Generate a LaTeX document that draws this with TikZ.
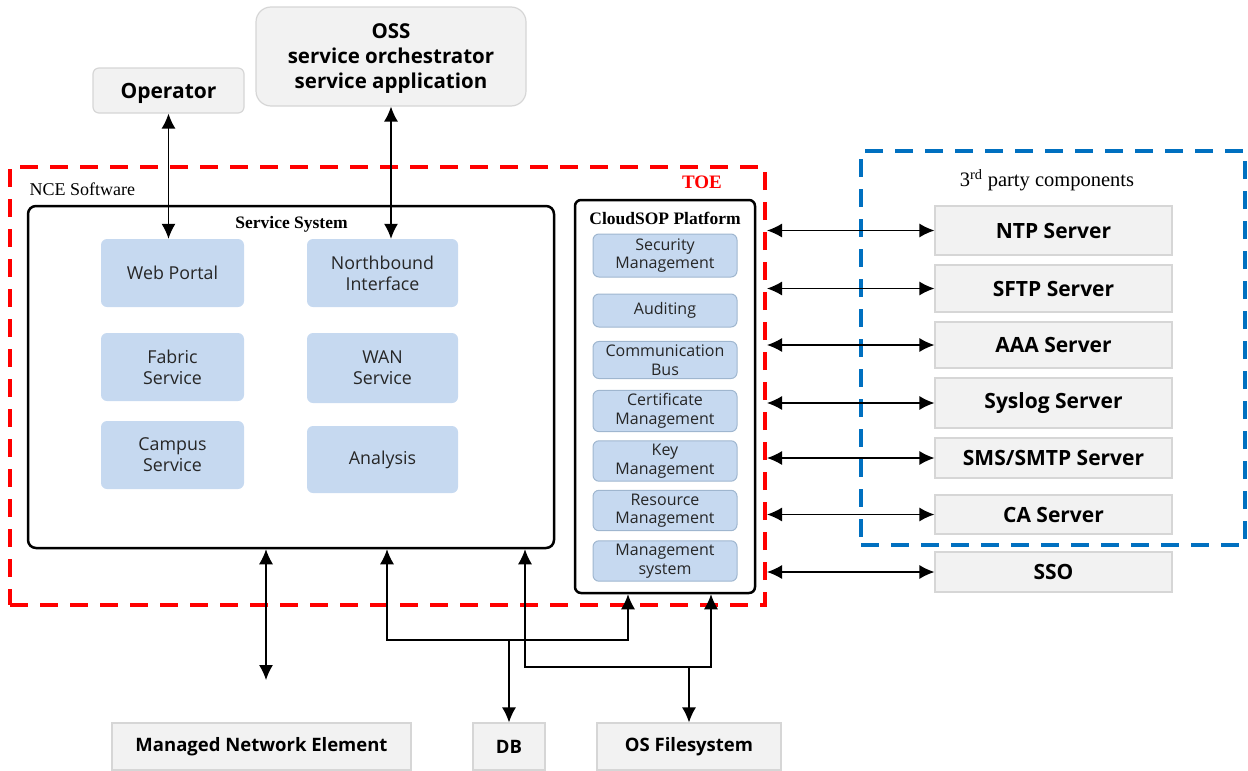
\documentclass[tikz,border=0pt]{standalone}
\usepackage{fontspec}
\setmainfont{Liberation Serif}
\setsansfont{Open Sans}
\usepackage{tikz}
\usetikzlibrary{arrows.meta}
\tikzset{>={Latex[length=15pt,width=14pt]}}
\definecolor{boxgray}{HTML}{F2F2F2}
\definecolor{linegray}{HTML}{D6D6D6}
\definecolor{modblue}{HTML}{C6D9F0}
\definecolor{modline}{HTML}{9FB6CF}
\definecolor{toered}{HTML}{FF0000}
\definecolor{tpblue}{HTML}{0070C0}
\definecolor{modtext}{HTML}{262626}
\tikzset{
    graybox/.style={draw=linegray, fill=boxgray, line width=1.2pt, align=center,
        font=\sffamily\bfseries\fontsize{21}{25}\selectfont},
    modbox/.style={fill=modblue, rounded corners=6pt, align=center, text=modtext,
        font=\sffamily\fontsize{17.8}{21}\selectfont},
    platbox/.style={modbox, draw=modline, line width=1pt,
        font=\sffamily\fontsize{16}{18.5}\selectfont},
    container/.style={draw, line width=2.5pt, rounded corners=8pt},
    link/.style={line width=1.3pt}
}

\begin{document}
\begin{tikzpicture}[x=1pt, y=-1pt]
    \useasboundingbox (0,0) rectangle (1248,771);

    % users on top
    \node[graybox, rounded corners=6pt, minimum width=151, minimum height=45, text depth=0pt] (operator) at (168.5,90.5) {Operator};
    \node[graybox, rounded corners=15pt, minimum width=270, minimum height=99, text depth=0pt, font=\sffamily\bfseries\fontsize{20.5}{25}\selectfont] (oss) at (391,56.5) {OSS\\service orchestrator\\service application};

    % TOE boundary
    \node[draw=toered, line width=4pt, dash pattern=on 18pt off 12pt, minimum width=755, minimum height=438] (toe) at (387.5,386) {};
    \node[anchor=west, font=\fontsize{18}{20}\selectfont] at (26,189) {NCE Software};
    \node[text=toered, font=\bfseries\fontsize{19}{20}\selectfont] at (702,182) {TOE};

    % service system
    \node[container, minimum width=526, minimum height=342] (svc) at (291,377) {};
    \node[font=\bfseries\fontsize{17.5}{20}\selectfont] at (291.5,224) {Service System};
    \node[modbox, minimum width=143, minimum height=68] (web) at (172.5,273) {Web Portal};
    \node[modbox, minimum width=151, minimum height=68] (nbi) at (382.5,273) {Northbound\\Interface};
    \node[modbox, minimum width=143, minimum height=68] (fabric) at (172.5,367) {Fabric\\Service};
    \node[modbox, minimum width=151, minimum height=70] (wan) at (382.5,368) {WAN\\Service};
    \node[modbox, minimum width=143, minimum height=68] (campus) at (172.5,455) {Campus\\Service};
    \node[modbox, minimum width=151, minimum height=67] (analysis) at (382.5,459.5) {Analysis};

    % platform
    \node[container, rounded corners=6pt, minimum width=180, minimum height=393] (cloud) at (665,396.5) {};
    \node[font=\bfseries\fontsize{17.5}{20}\selectfont] at (665,218) {CloudSOP Platform};
    \node[platbox, minimum width=144, minimum height=43] (secmgmt) at (665,255.5) {Security\\Management};
    \node[platbox, minimum width=144, minimum height=33] (audit) at (665,310.5) {Auditing};
    \node[platbox, minimum width=144, minimum height=36] (commbus) at (665,360) {Communication\\Bus};
    \node[platbox, minimum width=144, minimum height=36] (certmgmt) at (665,411) {Certificate\\Management};
    \node[platbox, minimum width=144, minimum height=36] (keymgmt) at (665,461) {Key\\Management};
    \node[platbox, minimum width=144, minimum height=35] (resmgmt) at (665,510.5) {Resource\\Management};
    \node[platbox, minimum width=144, minimum height=36] (mgmtsys) at (665,561) {Management\\system};

    % third party
    \node[draw=tpblue, line width=3.5pt, dash pattern=on 18pt off 12pt, minimum width=384, minimum height=394] (third) at (1053,348) {};
    \node[font=\fontsize{20.5}{22}\selectfont] at (1047,180) {3\textsuperscript{rd} party components};
    \node[graybox, minimum width=237, minimum height=49] (ntp) at (1053.5,230.5) {NTP Server};
    \node[graybox, minimum width=237, minimum height=47] (sftp) at (1053.5,288.5) {SFTP Server};
    \node[graybox, minimum width=237, minimum height=46] (aaa) at (1053.5,345) {AAA Server};
    \node[graybox, minimum width=237, minimum height=50] (syslog) at (1053.5,403) {Syslog Server};
    \node[graybox, minimum width=237, minimum height=40] (smtp) at (1053.5,458) {SMS/SMTP Server};
    \node[graybox, minimum width=237, minimum height=39] (ca) at (1053.5,514.5) {CA Server};
    \node[graybox, minimum width=237, minimum height=40] (sso) at (1053.5,572) {SSO};

    % bottom
    \node[graybox, minimum width=299, minimum height=47, font=\sffamily\bfseries\fontsize{18.5}{22}\selectfont] (ne) at (261.5,746.5) {Managed Network Element};
    \node[graybox, minimum width=72, minimum height=47, font=\sffamily\bfseries\fontsize{18.5}{22}\selectfont] (db) at (509,746.5) {DB};
    \node[graybox, minimum width=184, minimum height=47, font=\sffamily\bfseries\fontsize{18.5}{22}\selectfont] (osfs) at (689,746.5) {OS Filesystem};

    % connectors
    \draw[link, <->] (operator.south) -- (operator.south |- web.north);
    \draw[link, <->] (oss.south) -- (oss.south |- nbi.north);
    \foreach \s in {ntp, sftp, aaa, syslog, smtp, ca, sso}
        \draw[link, <->] (toe.east |- \s.west) -- (\s.west);

    \coordinate (neend) at (266,680);
    \draw[link, <->] (svc.south -| neend) -- (neend);

    \coordinate (dbL) at (387,640);
    \coordinate (dbR) at (628,640);
    \draw[link, <->] (svc.south -| dbL) -- (dbL) -- (dbR) -- (cloud.south -| dbR);
    \draw[link, ->] (db.north |- dbL) -- (db.north);

    \coordinate (osL) at (525,667);
    \coordinate (osR) at (711,667);
    \draw[link, <->] (svc.south -| osL) -- (osL) -- (osR) -- (cloud.south -| osR);
    \draw[link, ->] (osfs.north |- osL) -- (osfs.north);
\end{tikzpicture}
\end{document}
